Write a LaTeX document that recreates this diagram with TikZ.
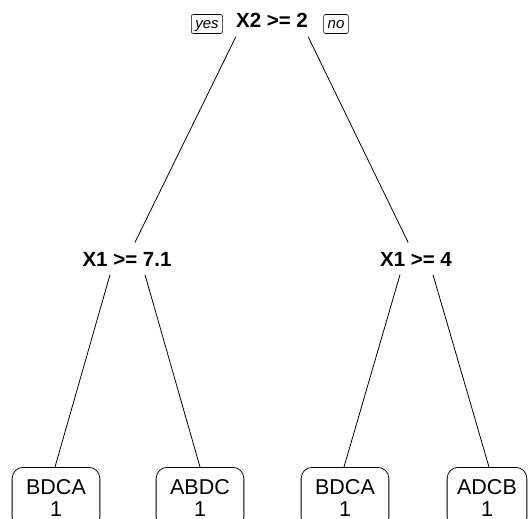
\documentclass[tikz,border=0pt]{standalone}
\usepackage{fontspec}
\setmainfont{Liberation Sans}
\begin{document}
\begin{tikzpicture}[x=1pt,y=-1pt,
  split/.style={font=\fontsize{20.5}{24}\selectfont\bfseries, inner xsep=0pt,
    inner ysep=8.5pt, text height=14.7pt, text depth=0pt, anchor=base},
  leaf/.style={draw, rounded corners=11pt, font=\fontsize{21.5}{22.5}\selectfont,
    align=center, anchor=north, inner xsep=14pt, inner ysep=12pt, line width=0.8pt},
  tag/.style={draw, rounded corners=2pt, font=\fontsize{15}{18}\selectfont\itshape,
    inner xsep=4pt, inner ysep=3pt, text height=11pt, text depth=2pt, line width=0.6pt},
  branch/.style={line width=0.8pt}]
\useasboundingbox (0,0) rectangle (528,519);

% split labels
\node[split] (root) at (272,28) {X2 >= 2};
\node[split] (L) at (127,266) {X1 >= 7.1};
\node[split] (R) at (416,266) {X1 >= 4};

% yes / no tags beside the root
\node[tag] (yes) at (207,24) {yes};
\node[tag] (no) at (336,24) {no};

% leaves
\node[leaf] (l1) at (56,467) {BDCA\\1};
\node[leaf] (l2) at (200,467) {ABDC\\1};
\node[leaf] (l3) at (345,467) {BDCA\\1};
\node[leaf, inner xsep=10pt] (l4) at (487,467) {ADCB\\1};

% branches
\draw[branch] (root.south west) -- (L);
\draw[branch] (root.south east) -- (R);
\draw[branch] ([xshift=-17pt]L.south) -- ([xshift=-1pt]l1.north);
\draw[branch] ([xshift=18pt]L.south) -- (l2.north);
\draw[branch] ([xshift=-16pt]R.south) -- ([xshift=-1pt]l3.north);
\draw[branch] ([xshift=17pt]R.south) -- ([xshift=2pt]l4.north);
\end{tikzpicture}
\end{document}
